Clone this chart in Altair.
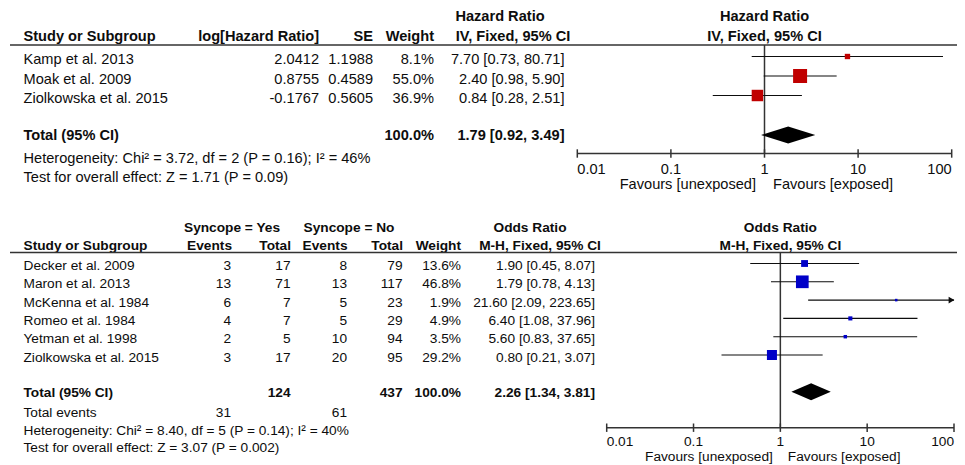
import altair as alt
import pandas as pd

# ---------------- data: hazard ratio meta-analysis ----------------
hr_study = ["Kamp et al. 2013", "Moak et al. 2009", "Ziolkowska et al. 2015"]
hr_loghr = [2.0412, 0.8755, -0.1767]
hr_se = [1.1988, 0.4589, 0.5605]
hr_weight = [8.1, 55.0, 36.9]
hr_est = [7.70, 2.40, 0.84]
hr_lo = [0.73, 0.98, 0.28]
hr_hi = [80.71, 5.90, 2.51]
hr_total = [1.79, 0.92, 3.49]
hr_total_weight = 100.0
hr_het = "Heterogeneity: Chi² = 3.72, df = 2 (P = 0.16); I² = 46%"
hr_test = "Test for overall effect: Z = 1.71 (P = 0.09)"

# ---------------- data: odds ratio meta-analysis ----------------
or_study = ["Decker et al. 2009", "Maron et al. 2013", "McKenna et al. 1984",
            "Romeo et al. 1984", "Yetman et al. 1998", "Ziolkowska et al. 2015"]
yes_events = [3, 13, 6, 4, 2, 3]
yes_total = [17, 71, 7, 7, 5, 17]
no_events = [8, 13, 5, 5, 10, 20]
no_total = [79, 117, 23, 29, 94, 95]
or_weight = [13.6, 46.8, 1.9, 4.9, 3.5, 29.2]
or_est = [1.90, 1.79, 21.60, 6.40, 5.60, 0.80]
or_lo = [0.45, 0.78, 2.09, 1.08, 0.83, 0.21]
or_hi = [8.07, 4.13, 223.65, 37.96, 37.65, 3.07]
or_total = [2.26, 1.34, 3.81]
or_total_weight = 100.0
or_het = "Heterogeneity: Chi² = 8.40, df = 5 (P = 0.14); I² = 40%"
or_test = "Test for overall effect: Z = 3.07 (P = 0.002)"

axis_ticks = [0.01, 0.1, 1, 10, 100]
axis_labels = ["0.01", "0.1", "1", "10", "100"]
fav_left = "Favours [unexposed]"
fav_right = "Favours [exposed]"

# ---------------- layout ----------------
W, H = 949, 457
P0 = 8
FONT = "Liberation Sans"
INK = "#0d0d0d"
XS = alt.Scale(domain=[P0, P0 + W], range=[0, W], zero=False, nice=False)
YS = alt.Scale(domain=[P0, P0 + H], range=[0, H], zero=False, nice=False)

TOP = dict(fs=14.6, hdr1=17, hdr2=37, rule=45, row0=60, step=19.5, total=136,
           het=158.5, test=178, fdy=-3.5, diamond=135, axis=153.5, ticklbl=170,
           fav=185, x01=577.3, x100=951.7, gap=8.5, color="#C00000", k=3.56, dh=8.5)
BOT = dict(fs=13.7, hdr1=227.5, hdr2=245.5, rule=252.5, row0=266, step=18.3,
           total=393.3, events=413, het=430.5, test=448, fdy=-2.5, diamond=391.7,
           axis=427.7, ticklbl=441.7, fav=457.3, x01=606.7, x100=954, gap=7.5,
           color="#0000C8", k=3.44, dh=8.5)


def ci(e, l, h):
    return f"{e:.2f} [{l:.2f}, {h:.2f}]"


def text_layers(items, scale=XS):
    df = pd.DataFrame(items, columns=["t", "x", "y", "align", "bold", "size", "dx"])
    out = []
    for (align, bold, size, dx), g in df.groupby(["align", "bold", "size", "dx"]):
        out.append(
            alt.Chart(g[["t", "x", "y"]].reset_index(drop=True))
            .mark_text(align=align, baseline="middle", font=FONT, fontSize=float(size),
                       fontWeight="bold" if bold else "normal", color=INK, dx=float(dx))
            .encode(x=alt.X("x:Q", scale=scale, axis=None),
                    y=alt.Y("y:Q", scale=YS, axis=None),
                    text="t:N")
        )
    return out


def hline(x1, x2, y, sw=1.6):
    df = pd.DataFrame({"x": [x1], "x2": [x2], "y": [y]})
    return alt.Chart(df).mark_rule(color="#333333", strokeWidth=sw).encode(
        x=alt.X("x:Q", scale=XS, axis=None), x2="x2:Q",
        y=alt.Y("y:Q", scale=YS, axis=None))


def forest(p, est, lo, hi, weight, total, title1, title2):
    LS = alt.Scale(type="log", domain=[0.01, 100],
                   range=[p["x01"] - P0, p["x100"] - P0], nice=False)
    n = len(est)
    ys = [p["row0"] + i * p["step"] + p["fdy"] for i in range(n)]
    df = pd.DataFrame({
        "est": est,
        "lo": [max(v, 0.01) for v in lo],
        "hi": [min(v, 100) for v in hi],
        "arrow": [v > 100 for v in hi],
        "w": weight,
        "y": ys,
    })
    X = lambda f: alt.X(f, scale=LS, axis=None)
    Y = alt.Y("y:Q", scale=YS, axis=None)
    layers = []
    # line of no effect
    layers.append(alt.Chart(pd.DataFrame({"x": [1], "y": [p["rule"]], "y2": [p["axis"]]}))
                  .mark_rule(color="#333333", strokeWidth=1.5)
                  .encode(x=X("x:Q"), y=Y, y2="y2:Q"))
    # confidence intervals
    layers.append(alt.Chart(df).mark_rule(color=INK, strokeWidth=1.1)
                  .encode(x=X("lo:Q"), x2="hi:Q", y=Y))
    # arrows for clipped intervals
    layers.append(alt.Chart(df).transform_filter("datum.arrow")
                  .mark_point(shape="triangle-right", filled=True, size=45, color=INK,
                              opacity=1, xOffset=-2.5)
                  .encode(x=X("hi:Q"), y=Y))
    # study squares
    layers.append(alt.Chart(df).mark_square(filled=True, color=p["color"], opacity=1)
                  .encode(x=X("est:Q"), y=Y,
                          size=alt.Size("w:Q", scale=alt.Scale(domain=[0, 100], range=[0, p["k"] * 100]),
                                        legend=None)))
    # pooled diamond
    c, h = p["diamond"], p["dh"]
    dd = pd.DataFrame({"x": [total[1], total[0], total[2]],
                       "y": [c, c - h, c], "y2": [c, c + h, c]})
    layers.append(alt.Chart(dd).mark_area(color="#000000", opacity=1, interpolate="linear")
                  .encode(x=X("x:Q"), y=Y, y2="y2:Q"))
    # axis line and ticks
    layers.append(alt.Chart(pd.DataFrame({"x": [axis_ticks[0]], "x2": [axis_ticks[-1]], "y": [p["axis"]]}))
                  .mark_rule(color="#333333", strokeWidth=1.5)
                  .encode(x=X("x:Q"), x2="x2:Q", y=Y))
    tk = pd.DataFrame({"x": axis_ticks, "y": [p["axis"] - 4.2] * 5, "y2": [p["axis"] + 4.2] * 5})
    layers.append(alt.Chart(tk).mark_rule(color="#333333", strokeWidth=1.5)
                  .encode(x=X("x:Q"), y=Y, y2="y2:Q"))
    fs = p["fs"]
    items = []
    for i, (v, lab) in enumerate(zip(axis_ticks, axis_labels)):
        al = "left" if i == 0 else ("right" if i == len(axis_ticks) - 1 else "center")
        items.append((lab, v, p["ticklbl"], al, False, fs, 0))
    items.append((fav_left, 1, p["fav"], "right", False, fs, -p["gap"]))
    items.append((fav_right, 1, p["fav"], "left", False, fs, p["gap"]))
    items.append((title1, 1, p["hdr1"], "center", True, fs, 0))
    items.append((title2, 1, p["hdr2"], "center", True, fs, 0))
    layers += text_layers(items, scale=LS)
    return layers


# ---------------- top table ----------------
p = TOP
fs = p["fs"]
t_items = [
    ("Hazard Ratio", 500, p["hdr1"], "center", True, fs, 0),
    ("Study or Subgroup", 23.5, p["hdr2"], "left", True, fs, 0),
    ("log[Hazard Ratio]", 319, p["hdr2"], "right", True, fs, 0),
    ("SE", 373, p["hdr2"], "right", True, fs, 0),
    ("Weight", 434, p["hdr2"], "right", True, fs, 0),
    ("IV, Fixed, 95% CI", 513, p["hdr2"], "center", True, fs, 0),
]
for i in range(len(hr_study)):
    y = p["row0"] + i * p["step"]
    t_items += [
        (hr_study[i], 23.5, y, "left", False, fs, 0),
        (f"{hr_loghr[i]:.4f}", 319, y, "right", False, fs, 0),
        (f"{hr_se[i]:.4f}", 373, y, "right", False, fs, 0),
        (f"{hr_weight[i]:.1f}%", 434, y, "right", False, fs, 0),
        (ci(hr_est[i], hr_lo[i], hr_hi[i]), 564.5, y, "right", False, fs, 0),
    ]
t_items += [
    ("Total (95% CI)", 23.5, p["total"], "left", True, fs, 0),
    (f"{hr_total_weight:.1f}%", 434, p["total"], "right", True, fs, 0),
    (ci(*hr_total), 564.5, p["total"], "right", True, fs, 0),
    (hr_het, 23.5, p["het"], "left", False, fs, 0),
    (hr_test, 23.5, p["test"], "left", False, fs, 0),
]

# ---------------- bottom table ----------------
p = BOT
fs = p["fs"]
b_items = [
    ("Syncope = Yes", 232, p["hdr1"], "center", True, fs, 0),
    ("Syncope = No", 349, p["hdr1"], "center", True, fs, 0),
    ("Odds Ratio", 530, p["hdr1"], "center", True, fs, 0),
    ("Study or Subgroup", 23.5, p["hdr2"], "left", True, fs, 0),
    ("Events", 232, p["hdr2"], "right", True, fs, 0),
    ("Total", 291, p["hdr2"], "right", True, fs, 0),
    ("Events", 347.5, p["hdr2"], "right", True, fs, 0),
    ("Total", 403, p["hdr2"], "right", True, fs, 0),
    ("Weight", 461, p["hdr2"], "right", True, fs, 0),
    ("M-H, Fixed, 95% CI", 540, p["hdr2"], "center", True, fs, 0),
]
for i in range(len(or_study)):
    y = p["row0"] + i * p["step"]
    b_items += [
        (or_study[i], 23.5, y, "left", False, fs, 0),
        (str(yes_events[i]), 231, y, "right", False, fs, 0),
        (str(yes_total[i]), 290.5, y, "right", False, fs, 0),
        (str(no_events[i]), 347, y, "right", False, fs, 0),
        (str(no_total[i]), 402.5, y, "right", False, fs, 0),
        (f"{or_weight[i]:.1f}%", 461, y, "right", False, fs, 0),
        (ci(or_est[i], or_lo[i], or_hi[i]), 595, y, "right", False, fs, 0),
    ]
b_items += [
    ("Total (95% CI)", 23.5, p["total"], "left", True, fs, 0),
    (str(sum(yes_total)), 290.5, p["total"], "right", True, fs, 0),
    (str(sum(no_total)), 402.5, p["total"], "right", True, fs, 0),
    (f"{or_total_weight:.1f}%", 461, p["total"], "right", True, fs, 0),
    (ci(*or_total), 595, p["total"], "right", True, fs, 0),
    ("Total events", 23.5, p["events"], "left", False, fs, 0),
    (str(sum(yes_events)), 231, p["events"], "right", False, fs, 0),
    (str(sum(no_events)), 347, p["events"], "right", False, fs, 0),
    (or_het, 23.5, p["het"], "left", False, fs, 0),
    (or_test, 23.5, p["test"], "left", False, fs, 0),
]

layers = []
layers += text_layers(t_items + b_items)
layers.append(hline(10, P0 + W, TOP["rule"]))
layers.append(hline(10, P0 + W, BOT["rule"]))
layers += forest(TOP, hr_est, hr_lo, hr_hi, hr_weight, hr_total, "Hazard Ratio", "IV, Fixed, 95% CI")
layers += forest(BOT, or_est, or_lo, or_hi, or_weight, or_total, "Odds Ratio", "M-H, Fixed, 95% CI")

chart = (
    alt.layer(*layers)
    .resolve_scale(x="independent", size="independent")
    .properties(width=W, height=H, padding=0, autosize=alt.AutoSizeParams(type="none"),
                background="white")
    .configure_view(stroke=None)
)

chart.save("out.html", embed_options={"renderer": "svg", "actions": False})
